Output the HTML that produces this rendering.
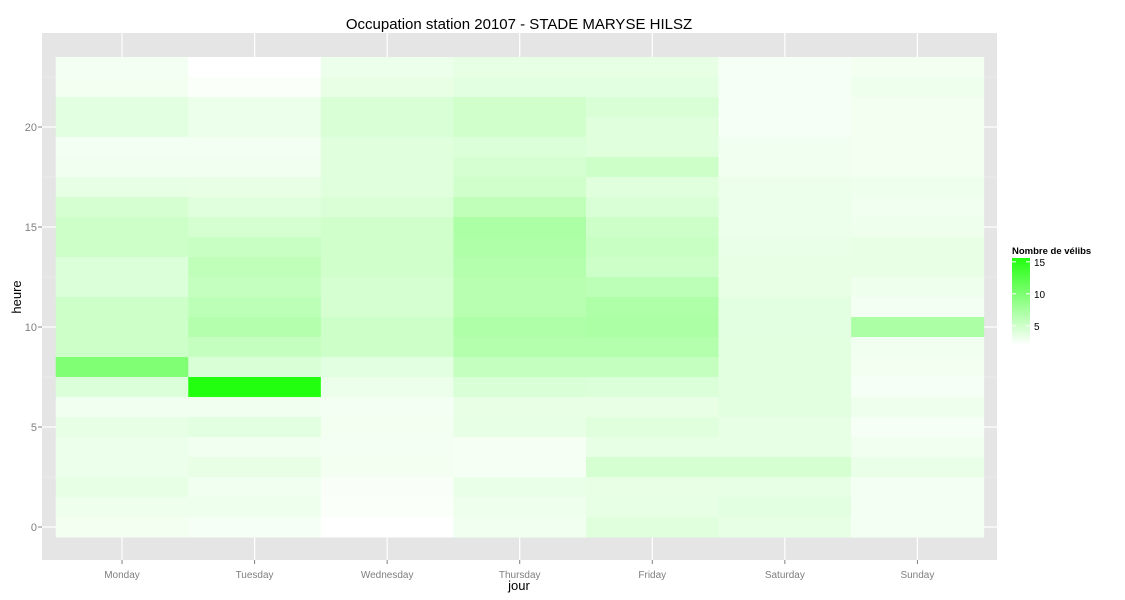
<!DOCTYPE html>
<html><head><meta charset="utf-8"><style>
body{margin:0;background:#fff;font-family:"Liberation Sans",sans-serif;}
svg{display:block}
</style></head><body>
<svg id="chart" width="1125" height="600"></svg>
<script>
const days=["Monday","Tuesday","Wednesday","Thursday","Friday","Saturday","Sunday"];
const hourTicks=[0,5,10,15,20];
const legendTicks=[5,10,15];
// values per day, hour 23 down to hour 0
const monday=[2.7,2.8,3.7,3.7,2.7,2.9,3.5,4.6,5.1,5.1,4.2,4.2,5.1,5.1,5.1,9.8,4.2,2.9,3.5,3.2,3.2,3.5,3.0,2.8];
const tuesday=[2.0,2.3,3.2,3.2,2.7,2.9,3.4,3.9,4.6,5.4,5.9,5.6,6.1,6.6,5.6,4.4,15.6,2.9,3.7,2.9,3.4,2.9,3.0,2.55];
const wednesday=[3.2,3.4,4.4,4.4,3.9,3.9,3.9,4.3,4.9,4.9,4.9,4.6,4.6,5.1,5.1,3.7,3.2,2.7,2.8,2.7,2.8,2.4,2.3,2.0];
const thursday=[3.5,3.7,4.9,4.9,4.2,4.6,4.9,5.9,7.1,6.9,6.6,6.4,6.4,6.9,6.6,5.6,4.4,3.4,3.5,2.6,2.6,3.3,3.0,2.9];
const friday=[3.5,3.7,4.4,3.9,3.9,5.1,3.9,4.4,5.1,5.4,5.1,6.1,6.9,7.1,6.6,5.6,4.2,3.4,3.9,3.5,4.6,3.4,3.5,3.9];
const saturday=[2.55,2.55,2.55,2.55,2.9,2.9,3.2,3.2,3.2,3.3,3.4,3.4,3.7,3.7,3.8,3.8,3.8,3.8,3.5,3.5,4.6,3.5,3.7,3.5];
const sunday=[2.8,3.0,2.8,2.8,2.8,2.8,3.0,2.9,3.0,3.4,3.4,3.0,2.7,7.1,2.9,2.8,2.55,3.0,2.55,2.9,3.3,2.7,2.7,2.7];
const series=[monday,tuesday,wednesday,thursday,friday,saturday,sunday];
const vmin=2.0, vmax=15.6;

const NS="http://www.w3.org/2000/svg";
const svg=document.getElementById('chart');
function mk(tag,attrs,parent){const e=document.createElementNS(NS,tag);for(const k in attrs)e.setAttribute(k,attrs[k]);(parent||svg).appendChild(e);return e;}
const P={x0:42,x1:997,y0:33,y1:560};
const colW=132.57;
function xCenter(i){return 122+i*colW;}
function yHour(h){return 527-h*20;}
function color(v){let t=(v-vmin)/(vmax-vmin);t=Math.max(0,Math.min(1,t));
 const r=Math.round(255-t*(255-34)),g=255,b=Math.round(255-t*(255-15));return `rgb(${r},${g},${b})`;}

const panel=mk('rect',{x:P.x0,y:P.y0,width:P.x1-P.x0,height:P.y1-P.y0,fill:'#E5E5E5'});


// minor grid
for(let h=-2.5;h<=25;h+=5){const y=yHour(h);if(y<P.y0||y>P.y1)continue;
 const l=mk('line',{x1:P.x0,x2:P.x1,y1:y,y2:y,stroke:'#F2F2F2','stroke-width':0.6});
 
 }
hourTicks.forEach(h=>{const y=yHour(h);
 const l=mk('line',{x1:P.x0,x2:P.x1,y1:y,y2:y,stroke:'#fff','stroke-width':1.2});
 
 
 const t=mk('text',{x:37,y:y+4,'text-anchor':'end','font-size':11,fill:'#7F7F7F'});t.textContent=h;
 
 
 const tk=mk('line',{x1:38,x2:42,y1:y,y2:y,stroke:'#7F7F7F'});
 
 });
days.forEach((d,i)=>{const x=xCenter(i);
 const l=mk('line',{x1:x,x2:x,y1:P.y0,y2:P.y1,stroke:'#fff','stroke-width':1.2});
 
 
 const t=mk('text',{x:x,y:578,'text-anchor':'middle','font-size':10,fill:'#7F7F7F'});t.textContent=d;
 
 
 const tk=mk('line',{x1:x,x2:x,y1:560,y2:564,stroke:'#7F7F7F'});
 
 });
// tiles
series.forEach((arr,i)=>{arr.forEach((v,k)=>{const h=23-k;
 const r=mk('rect',{x:xCenter(i)-colW/2,y:yHour(h)-10,width:colW+0.5,height:20.5,fill:color(v)});
 
 });});

const title=mk('text',{x:519,y:29,'text-anchor':'middle','font-size':15,fill:'#000'});title.textContent='Occupation station 20107 - STADE MARYSE HILSZ';


const xt=mk('text',{x:519,y:590,'text-anchor':'middle','font-size':13,fill:'#000'});xt.textContent='jour';


const yt=mk('text',{x:21,y:297,'text-anchor':'middle','font-size':13,fill:'#000',transform:'rotate(-90 21 297)'});yt.textContent='heure';



// legend
const defs=mk('defs',{});
const lg=mk('linearGradient',{id:'lg',x1:0,y1:1,x2:0,y2:0},defs);
mk('stop',{offset:0,'stop-color':color(vmin)},lg);mk('stop',{offset:1,'stop-color':color(vmax)},lg);
const LT=258,LB=345;
function yLeg(v){return LB-(v-vmin)/(vmax-vmin)*(LB-LT);}
const lt=mk('text',{x:1012,y:254,'font-size':9.5,'font-weight':'bold',fill:'#000'});lt.textContent='Nombre de vélibs';


const bar=mk('rect',{x:1012,y:LT,width:18,height:LB-LT,fill:'url(#lg)'});


legendTicks.forEach(v=>{const y=yLeg(v);
 const t=mk('text',{x:1034,y:y+4,'font-size':10,fill:'#000'});t.textContent=v;
 
 
 const a=mk('line',{x1:1012,x2:1016,y1:y,y2:y,stroke:'#fff'});
 
 
 const b=mk('line',{x1:1026,x2:1030,y1:y,y2:y,stroke:'#fff'});
 
 });
</script>
</body></html>
